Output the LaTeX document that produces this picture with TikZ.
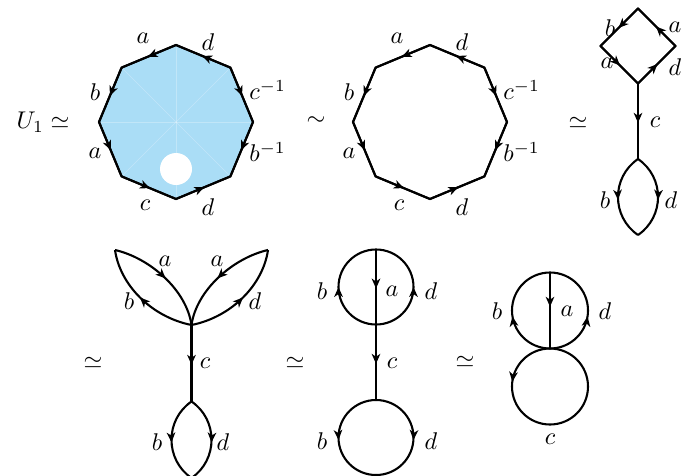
\documentclass[tikz,border=0pt]{standalone}
\usetikzlibrary{arrows.meta,decorations.markings}
\definecolor{fillblue}{RGB}{170,221,246}
\begin{document}
\begin{tikzpicture}[x=0.455pt,y=-0.455pt,
  edge/.style={line width=0.95pt},
  marr/.style={postaction={decorate,decoration={markings,mark=at position #1 with {\arrow{Stealth[length=4.5pt,width=3.9pt,inset=1.3pt]}}}}},
  marr/.default=0.52,
  lab/.style={inner sep=0pt,scale=1.1},
  faint/.style={draw=white,opacity=0.28,line width=0.3pt}
]
\useasboundingbox (0,0) rectangle (681,475);

% ---------- octagon 1 (filled) ----------
\coordinate (o1c) at (176,122);
\coordinate (o1t) at (176,45);
\coordinate (o1tl) at (121.6,67.6);
\coordinate (o1l) at (99,122);
\coordinate (o1bl) at (121.6,176.4);
\coordinate (o1b) at (176,199);
\coordinate (o1br) at (230.4,176.4);
\coordinate (o1r) at (253,122);
\coordinate (o1tr) at (230.4,67.6);
\coordinate (hole) at (176,169);
\fill[fillblue] (o1t) -- (o1tl) -- (o1l) -- (o1bl) -- (o1b) -- (o1br) -- (o1r) -- (o1tr) -- cycle;
\foreach \v in {t,tl,l,bl,b,br,r,tr} \draw[faint] (o1c) -- (o1\v);
\fill[white] (hole) circle[radius=16];
\draw[edge] (o1t) -- (o1tl) -- (o1l) -- (o1bl) -- (o1b) -- (o1br) -- (o1r) -- (o1tr) -- cycle;
\draw[edge,marr] (o1t) -- (o1tl);
\draw[edge,marr] (o1tr) -- (o1t);
\draw[edge,marr] (o1tl) -- (o1l);
\draw[edge,marr] (o1l) -- (o1bl);
\draw[edge,marr] (o1bl) -- (o1b);
\draw[edge,marr] (o1b) -- (o1br);
\draw[edge,marr] (o1tr) -- (o1r);
\draw[edge,marr] (o1r) -- (o1br);
\node[lab] (u1) at (43,122) {$U_1\simeq$};
\node[lab] (o1la) at (143,38) {$a$};
\node[lab] (o1ld) at (208,42) {$d$};
\node[lab] (o1lb) at (95,92) {$b$};
\node[lab,anchor=west] (o1lci) at (249,90) {$c^{-1}$};
\node[lab] (o1la2) at (95,153) {$a$};
\node[lab,anchor=west] (o1lbi) at (249,152) {$b^{-1}$};
\node[lab] (o1lc) at (145,205) {$c$};
\node[lab] (o1ld2) at (208,207) {$d$};

% ---------- octagon 2 ----------
\coordinate (o2t) at (430,45);
\coordinate (o2tl) at (375.6,67.6);
\coordinate (o2l) at (353,122);
\coordinate (o2bl) at (375.6,176.4);
\coordinate (o2b) at (430,199);
\coordinate (o2br) at (484.4,176.4);
\coordinate (o2r) at (507,122);
\coordinate (o2tr) at (484.4,67.6);
\draw[edge] (o2t) -- (o2tl) -- (o2l) -- (o2bl) -- (o2b) -- (o2br) -- (o2r) -- (o2tr) -- cycle;
\draw[edge,marr] (o2t) -- (o2tl);
\draw[edge,marr] (o2tr) -- (o2t);
\draw[edge,marr] (o2tl) -- (o2l);
\draw[edge,marr] (o2l) -- (o2bl);
\draw[edge,marr] (o2bl) -- (o2b);
\draw[edge,marr] (o2b) -- (o2br);
\draw[edge,marr] (o2tr) -- (o2r);
\draw[edge,marr] (o2r) -- (o2br);
\node[lab] (sim2) at (316,121) {$\sim$};
\node[lab] (o2la) at (397,38) {$a$};
\node[lab] (o2ld) at (462,42) {$d$};
\node[lab] (o2lb) at (349,92) {$b$};
\node[lab,anchor=west] (o2lci) at (503,90) {$c^{-1}$};
\node[lab] (o2la2) at (349,153) {$a$};
\node[lab,anchor=west] (o2lbi) at (503,152) {$b^{-1}$};
\node[lab] (o2lc) at (399,205) {$c$};
\node[lab] (o2ld2) at (462,207) {$d$};

% ---------- figure 3: diamond, stem, lens ----------
\coordinate (d3t) at (638,8.5);
\coordinate (d3l) at (600.5,46);
\coordinate (d3r) at (675.5,46);
\coordinate (d3b) at (638,83.5);
\coordinate (v3) at (638,159);
\coordinate (w3) at (638,235);
\draw[edge] (d3t) -- (d3l) -- (d3b) -- (d3r) -- cycle;
\draw[edge,marr] (d3t) -- (d3l);
\draw[edge,marr] (d3r) -- (d3t);
\draw[edge,marr] (d3l) -- (d3b);
\draw[edge,marr] (d3b) -- (d3r);
\draw[edge,marr] (d3b) -- (v3);
\draw[edge,marr=0.53] (v3) .. controls +(-26.7,18.3) and +(-26.7,-18.3) .. (w3);
\draw[edge,marr=0.53] (v3) .. controls +(26.7,18.3) and +(26.7,-18.3) .. (w3);
\node[lab] (sim3) at (578,123) {$\simeq$};
\node[lab] (d3lb) at (610,28) {$b$};
\node[lab] (d3la) at (675,27) {$a$};
\node[lab] (d3la2) at (607,63) {$a$};
\node[lab] (d3ld) at (675,67) {$d$};
\node[lab] (d3lc) at (655,122) {$c$};
\node[lab] (d3lb2) at (605,200) {$b$};
\node[lab] (d3ld2) at (671,200) {$d$};

% ---------- figure 4: two petals, stem, lens ----------
\coordinate (c4) at (191.5,325);
\coordinate (l4) at (115,250);
\coordinate (r4) at (268,250);
\coordinate (v4) at (191.5,401.5);
\coordinate (w4) at (191.5,478);
\draw[edge,marr] (l4) .. controls +(35,8) and +(-5,-35) .. (c4);
\draw[edge,marr] (c4) .. controls +(-40,-8) and +(5,35) .. (l4);
\draw[edge,marr] (r4) .. controls +(-35,8) and +(5,-35) .. (c4);
\draw[edge,marr] (c4) .. controls +(40,-8) and +(-5,35) .. (r4);
\draw[edge,marr] (c4) -- (v4);
\draw[edge,marr=0.53] (v4) .. controls +(-26.7,18.3) and +(-26.7,-18.3) .. (w4);
\draw[edge,marr=0.53] (v4) .. controls +(26.7,18.3) and +(26.7,-18.3) .. (w4);
\node[lab] (sim4) at (93,363) {$\simeq$};
\node[lab] (f4la) at (165,261) {$a$};
\node[lab] (f4la2) at (217,261) {$a$};
\node[lab] (f4lb) at (129,301) {$b$};
\node[lab] (f4ld) at (255,301) {$d$};
\node[lab] (f4lc) at (205,363) {$c$};
\node[lab] (f4lb2) at (157,442) {$b$};
\node[lab] (f4ld2) at (223,442) {$d$};

% ---------- figure 5: theta circle, stem, circle ----------
\coordinate (t5) at (376,249.5);
\coordinate (b5) at (376,324.5);
\coordinate (l5) at (338.5,287);
\coordinate (r5) at (413.5,287);
\coordinate (t5b) at (376,400);
\coordinate (b5b) at (376,475);
\coordinate (l5b) at (338.5,437.5);
\coordinate (r5b) at (413.5,437.5);
\draw[edge,marr=0.5] (b5) .. controls +(-20.7,0) and +(0,20.7) .. (l5) .. controls +(0,-20.7) and +(-20.7,0) .. (t5);
\draw[edge,marr=0.5] (b5) .. controls +(20.7,0) and +(0,20.7) .. (r5) .. controls +(0,-20.7) and +(20.7,0) .. (t5);
\draw[edge,marr] (t5) -- (b5);
\draw[edge,marr] (b5) -- (t5b);
\draw[edge,marr=0.52] (t5b) .. controls +(-20.7,0) and +(0,-20.7) .. (l5b) .. controls +(0,20.7) and +(-20.7,0) .. (b5b);
\draw[edge,marr=0.52] (t5b) .. controls +(20.7,0) and +(0,-20.7) .. (r5b) .. controls +(0,20.7) and +(20.7,0) .. (b5b);
\node[lab] (sim5) at (295,363) {$\simeq$};
\node[lab] (f5lb) at (322,291) {$b$};
\node[lab] (f5la) at (392,291) {$a$};
\node[lab] (f5ld) at (431,291) {$d$};
\node[lab] (f5lc) at (392,363) {$c$};
\node[lab] (f5lb2) at (322,441) {$b$};
\node[lab] (f5ld2) at (431,441) {$d$};

% ---------- figure 6: theta circle touching circle ----------
\coordinate (t6) at (550,272.5);
\coordinate (b6) at (550,348.5);
\coordinate (l6) at (512,310.5);
\coordinate (r6) at (588,310.5);
\coordinate (b6b) at (550,424.5);
\coordinate (l6b) at (512,386.5);
\coordinate (r6b) at (588,386.5);
\draw[edge,marr=0.45] (b6) .. controls +(-21,0) and +(0,21) .. (l6) .. controls +(0,-21) and +(-21,0) .. (t6);
\draw[edge,marr=0.45] (b6) .. controls +(21,0) and +(0,21) .. (r6) .. controls +(0,-21) and +(21,0) .. (t6);
\draw[edge,marr=0.45] (t6) -- (b6);
\draw[edge,marr=0.23] (b6) .. controls +(-21,0) and +(0,-21) .. (l6b) .. controls +(0,21) and +(-21,0) .. (b6b) .. controls +(21,0) and +(0,21) .. (r6b) .. controls +(0,-21) and +(21,0) .. (b6);
\node[lab] (sim6) at (465,362) {$\simeq$};
\node[lab] (f6lb) at (497,311) {$b$};
\node[lab] (f6la) at (567,311) {$a$};
\node[lab] (f6ld) at (605,311) {$d$};
\node[lab] (f6lc) at (550,439) {$c$};
\end{tikzpicture}
\end{document}
